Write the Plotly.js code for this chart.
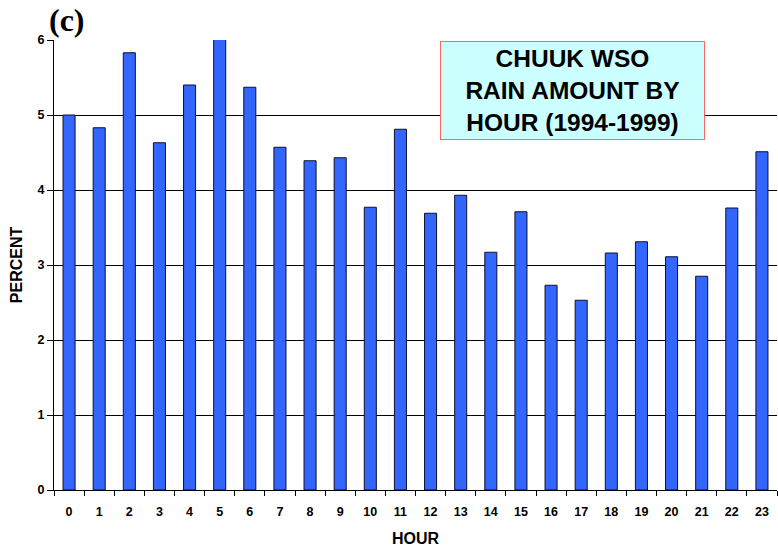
<!DOCTYPE html>
<html><head><meta charset="utf-8">
<script src="https://cdn.plot.ly/plotly-3.0.1.min.js"></script>
<style>body{margin:0;padding:0;}#chart{width:778px;height:549px;}</style>
</head><body><div id="chart"></div>
<script>
const hours = ["0","1","2","3","4","5","6","7","8","9","10","11","12","13","14","15","16","17","18","19","20","21","22","23"];
const percent = [5.00,4.83,5.83,4.63,5.40,6.03,5.37,4.57,4.39,4.43,3.77,4.81,3.69,3.93,3.17,3.71,2.73,2.53,3.16,3.31,3.11,2.85,3.76,4.51];
const yTicks = [0,1,2,3,4,5,6];
const titleText = "CHUUK WSO<br>RAIN AMOUNT BY<br>HOUR (1994-1999)";

const trace = {
  type: "bar", x: hours, y: percent,
  marker: {color: "#3366ff", line: {color: "#10102a", width: 1}},
  hoverinfo: "x+y"
};
const layout = {
  width: 778, height: 549,
  margin: {l: 54, r: 1, t: 40, b: 59},
  paper_bgcolor: "#ffffff", plot_bgcolor: "#ffffff",
  bargap: 0.6,
  showlegend: false,
  font: {family: "Liberation Sans, Arial, sans-serif", color: "#000"},
  xaxis: {
    type: "category", tickson: "boundaries",
    tickvals: hours, ticktext: hours.map(h => "<b>" + h + "</b>"),
    ticks: "outside", ticklen: 5, tickcolor: "#000", tickwidth: 1,
    ticklabelstandoff: 10,
    showline: true, linecolor: "#000", linewidth: 1,
    showgrid: false, zeroline: false,
    tickfont: {size: 12.5},
    title: {text: "<b>HOUR</b>", font: {size: 16}, standoff: 14}
  },
  yaxis: {
    range: [0, 6], tickvals: yTicks, ticktext: yTicks.map(v => "<b>" + v + "</b>"),
    ticks: "outside", ticklen: 6, tickcolor: "#000",
    showline: true, linecolor: "#000", linewidth: 1,
    showgrid: true, gridcolor: "#000", gridwidth: 1, zeroline: false,
    tickfont: {size: 12.5},
    title: {text: "<b>PERCENT</b>", font: {size: 16}, standoff: 10}
  },
  annotations: [
    {xref: "paper", yref: "paper", x: 0.534, y: 0.998, xanchor: "left", yanchor: "top",
     text: "<b>" + titleText + "</b>", showarrow: false, align: "center",
     font: {size: 24.5, family: "Liberation Sans, Arial, sans-serif", color: "#000"},
     bgcolor: "#ccffff", bordercolor: "#ff6666", borderwidth: 1, borderpad: 1,
     width: 261, height: 95},
    {xref: "paper", yref: "paper", x: 0.018, y: 1.0, xanchor: "center", yanchor: "middle",
     yshift: 20,
     text: "<b>(c)</b>", showarrow: false,
     font: {size: 32, family: "Liberation Serif, Times New Roman, serif", color: "#000"}}
  ]
};
Plotly.newPlot("chart", [trace], layout, {displayModeBar: false, staticPlot: true});
</script></body></html>
